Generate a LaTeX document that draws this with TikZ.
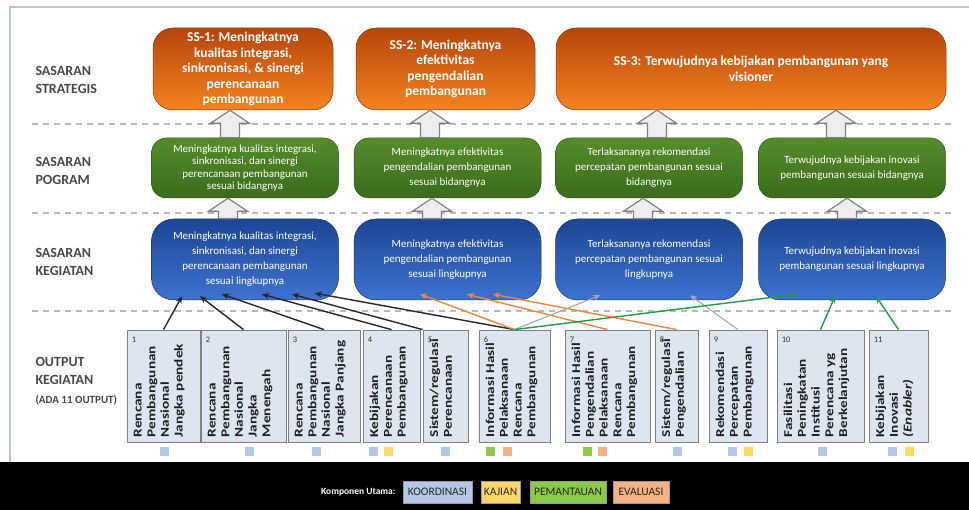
\documentclass[tikz,border=0pt]{standalone}
\usepackage{fontspec}
\setmainfont{Carlito}
\usetikzlibrary{arrows.meta,calc}

\definecolor{ssdark}{HTML}{B4460E}
\definecolor{sslight}{HTML}{F5821F}
\definecolor{pgdark}{HTML}{3A6B1C}
\definecolor{pglight}{HTML}{558D2B}
\definecolor{kgdark}{HTML}{1D4690}
\definecolor{kglight}{HTML}{3F72D2}
\definecolor{outfill}{HTML}{DCE5F0}
\definecolor{koord}{HTML}{B4C7E7}
\definecolor{kajian}{HTML}{FFD966}
\definecolor{pantau}{HTML}{8CCB45}
\definecolor{evalu}{HTML}{F4B183}
\definecolor{arrorange}{HTML}{E8873F}
\definecolor{arrgreen}{HTML}{1E9E4A}
\definecolor{bingkai}{HTML}{B9C3CF}

% panah blok ke atas: x, node bawah, node atas
\newcommand{\panahblok}[3]{%
  \draw[blok] let \p1=(#2.north), \p2=(#3.south) in
    ({#1pt-9.5pt},\y1) -- ({#1pt-9.5pt},{\y2-13pt}) -- ({#1pt-19.5pt},{\y2-13pt})
    -- ({#1pt},\y2) -- ({#1pt+19.5pt},{\y2-13pt}) -- ({#1pt+9.5pt},{\y2-13pt})
    -- ({#1pt+9.5pt},\y1) -- cycle;}

\begin{document}
\begin{tikzpicture}[x=1pt,y=-1pt,
  judul/.style={anchor=west, align=left, text=black!72, font=\fontsize{14}{18.5}\selectfont\bfseries},
  ss/.style={rounded corners=20pt, top color=ssdark, bottom color=sslight, draw=ssdark!80!black,
    line width=0.5pt, minimum height=82, inner sep=1pt, text=white, align=center,
    font=\fontsize{13.5}{15.5}\selectfont\bfseries},
  prog/.style={rounded corners=15pt, top color=pglight, bottom color=pgdark, draw=pgdark!80!black,
    line width=0.5pt, minimum height=60, minimum width=187, inner sep=1pt, text=white, align=center,
    font=\fontsize{11}{15}\selectfont},
  keg/.style={rounded corners=22pt, top color=kgdark, bottom color=kglight, draw=kgdark!80!black,
    line width=0.5pt, minimum height=81, minimum width=187, inner sep=1pt, text=white, align=center,
    font=\fontsize{11}{15}\selectfont},
  keluaran/.style={draw=black!50, fill=outfill, line width=0.8pt, minimum height=112, inner sep=0pt},
  nomor/.style={anchor=north west, inner sep=0pt, text=black!80, font=\fontsize{8.5}{9}\selectfont},
  isi/.style={rotate=90, xscale=1.27, anchor=north west, align=left, inner sep=0pt, text=black!88,
    font=\fontsize{12}{13.7}\selectfont\bfseries},
  kotak/.style={minimum size=9, inner sep=0pt},
  garis/.style={dash pattern=on 6pt off 5pt, draw=black!28, line width=1.2pt},
  hitam/.style={-{Stealth[length=7pt,width=6pt]}, line width=1.4pt, draw=black!85},
  oranye/.style={-{Stealth[length=7pt,width=6pt]}, line width=1.4pt, draw=arrorange},
  abu/.style={-{Stealth[length=7pt,width=6pt]}, line width=1.1pt, draw=black!35},
  hijau/.style={-{Stealth[length=7pt,width=6pt]}, line width=1.4pt, draw=arrgreen},
  blok/.style={draw=black!50, fill=black!7, line width=1.2pt},
  legenda/.style={minimum height=22, inner sep=0pt, draw=black!40, text=black!85,
    font=\fontsize{11.5}{12}\selectfont}]
  \useasboundingbox (0,0) rectangle (969,510);

  % bingkai dan garis pemisah
  \draw[bingkai, line width=2pt] (10,462) -- (10,7) -- (969,7);
  \draw[garis] (32,124) -- (952,124);
  \draw[garis] (32,213) -- (952,213);
  \draw[garis] (32,311) -- (952,311);

  % judul baris
  \node[judul] (jstrat) at (32,80) {SASARAN\\STRATEGIS};
  \node[judul] (jprog) at (32,171) {SASARAN\\POGRAM};
  \node[judul] (jkeg) at (32,262) {SASARAN\\KEGIATAN};
  \node[judul] (jout) at (32,381) {OUTPUT\\KEGIATAN\\{\fontsize{11}{12}\selectfont(ADA 11 OUTPUT)}};

  % sasaran strategis
  \node[ss, minimum width=180] (ss1) at (243,69) {SS-1: Meningkatnya\\kualitas integrasi,\\sinkronisasi, \& sinergi\\perencanaan\\pembangunan};
  \node[ss, minimum width=179] (ss2) at (445.5,69) {SS-2: Meningkatnya\\efektivitas\\pengendalian\\pembangunan};
  \node[ss, minimum width=390] (ss3) at (751,69) {SS-3: Terwujudnya kebijakan pembangunan yang\\visioner};

  % sasaran program
  \node[prog, font=\fontsize{11}{12.3}\selectfont] (pg1) at (245,168) {Meningkatnya kualitas integrasi,\\sinkronisasi, dan sinergi\\perencanaan pembangunan\\sesuai bidangnya};
  \node[prog] (pg2) at (447.5,168) {Meningkatnya efektivitas\\pengendalian pembangunan\\sesuai bidangnya};
  \node[prog] (pg3) at (649,168) {Terlaksananya rekomendasi\\percepatan pembangunan sesuai\\bidangnya};
  \node[prog] (pg4) at (852,168) {Terwujudnya kebijakan inovasi\\pembangunan sesuai bidangnya};

  % sasaran kegiatan
  \node[keg] (kg1) at (245,259.5) {Meningkatnya kualitas integrasi,\\sinkronisasi, dan sinergi\\perencanaan pembangunan\\sesuai lingkupnya};
  \node[keg] (kg2) at (447.5,259.5) {Meningkatnya efektivitas\\pengendalian pembangunan\\sesuai lingkupnya};
  \node[keg] (kg3) at (649,259.5) {Terlaksananya rekomendasi\\percepatan pembangunan sesuai\\lingkupnya};
  \node[keg] (kg4) at (852,259.5) {Terwujudnya kebijakan inovasi\\pembangunan sesuai lingkupnya};

  % panah blok
  \panahblok{228}{kg1}{pg1}
  \panahblok{432}{kg2}{pg2}
  \panahblok{643}{kg3}{pg3}
  \panahblok{847}{kg4}{pg4}
  \panahblok{230}{pg1}{ss1}
  \panahblok{430}{pg2}{ss2}
  \panahblok{657}{pg3}{ss3}
  \panahblok{836}{pg4}{ss3}

  % output kegiatan
  \node[keluaran, minimum width=73] (o1) at (163.5,386) {};
  \node[nomor] at ([xshift=5pt,yshift=-7pt]o1.north west) {1};
  \node[isi] at ([xshift=7pt,yshift=5pt]o1.south west) {Rencana\\Pembangunan\\Nasional\\Jangka pendek};
  \node[keluaran, minimum width=85] (o2) at (243.5,386) {};
  \node[nomor] at ([xshift=5pt,yshift=-7pt]o2.north west) {2};
  \node[isi] at ([xshift=7pt,yshift=5pt]o2.south west) {Rencana\\Pembangunan\\Nasional\\Jangka\\Menengah};
  \node[keluaran, minimum width=72] (o3) at (324,386) {};
  \node[nomor] at ([xshift=5pt,yshift=-7pt]o3.north west) {3};
  \node[isi] at ([xshift=7pt,yshift=5pt]o3.south west) {Rencana\\Pembangunan\\Nasional\\Jangka Panjang};
  \node[keluaran, minimum width=57] (o4) at (391.5,386) {};
  \node[nomor] at ([xshift=5pt,yshift=-7pt]o4.north west) {4};
  \node[isi] at ([xshift=7pt,yshift=5pt]o4.south west) {Kebijakan\\Perencanaan\\Pembangunan};
  \node[keluaran, minimum width=45] (o5) at (445.5,386) {};
  \node[nomor] at ([xshift=5pt,yshift=-7pt]o5.north west) {5};
  \node[isi] at ([xshift=7pt,yshift=5pt]o5.south west) {Sistem/regulasi\\Perencanaan};
  \node[keluaran, minimum width=71] (o6) at (514.5,386) {};
  \node[nomor] at ([xshift=5pt,yshift=-7pt]o6.north west) {6};
  \node[isi] at ([xshift=7pt,yshift=5pt]o6.south west) {Informasi Hasil\\Pelaksanaan\\Rencana\\Pembangunan};
  \node[keluaran, minimum width=85] (o7) at (607.5,386) {};
  \node[nomor] at ([xshift=5pt,yshift=-7pt]o7.north west) {7};
  \node[isi] at ([xshift=7pt,yshift=5pt]o7.south west) {Informasi Hasil\\Pengendalian\\Pelaksanaan\\Rencana\\Pembangunan};
  \node[keluaran, minimum width=43] (o8) at (676.5,386) {};
  \node[nomor] at ([xshift=5pt,yshift=-7pt]o8.north west) {8};
  \node[isi] at ([xshift=7pt,yshift=5pt]o8.south west) {Sistem/regulasi\\Pengendalian};
  \node[keluaran, minimum width=58] (o9) at (738,386) {};
  \node[nomor] at ([xshift=5pt,yshift=-7pt]o9.north west) {9};
  \node[isi] at ([xshift=7pt,yshift=5pt]o9.south west) {Rekomendasi\\Percepatan\\Pembangunan};
  \node[keluaran, minimum width=87] (o10) at (820.5,386) {};
  \node[nomor] at ([xshift=5pt,yshift=-7pt]o10.north west) {10};
  \node[isi] at ([xshift=7pt,yshift=5pt]o10.south west) {Fasilitasi\\Peningkatan\\Institusi\\Perencana yg\\Berkelanjutan};
  \node[keluaran, minimum width=59] (o11) at (898.5,386) {};
  \node[nomor] at ([xshift=5pt,yshift=-7pt]o11.north west) {11};
  \node[isi] at ([xshift=7pt,yshift=5pt]o11.south west) {Kebijakan\\Inovasi\\\textit{(Enabler)}};

  % komponen tiap output
  \node[kotak, fill=koord] at (164,451) {};
  \node[kotak, fill=koord] at (249,451) {};
  \node[kotak, fill=koord] at (316,451) {};
  \node[kotak, fill=koord] at (373,451) {};
  \node[kotak, fill=kajian] at (388,451) {};
  \node[kotak, fill=koord] at (445,451) {};
  \node[kotak, fill=pantau] at (490,451) {};
  \node[kotak, fill=evalu] at (507,451) {};
  \node[kotak, fill=pantau] at (587,451) {};
  \node[kotak, fill=evalu] at (602,451) {};
  \node[kotak, fill=koord] at (677,451) {};
  \node[kotak, fill=koord] at (732,451) {};
  \node[kotak, fill=kajian] at (748,451) {};
  \node[kotak, fill=koord] at (822,451) {};
  \node[kotak, fill=koord] at (892,451) {};
  \node[kotak, fill=kajian] at (909,451) {};

  % output ke sasaran kegiatan
  \draw[hitam] (o1.north) -- ([xshift=-63pt,yshift=4pt]kg1.south);
  \draw[hitam] (o2.north) -- ([xshift=-45pt,yshift=4pt]kg1.south);
  \draw[hitam] (o3.north) -- ([xshift=-23pt,yshift=6pt]kg1.south);
  \draw[hitam] (o4.north) -- ([xshift=17pt,yshift=6pt]kg1.south);
  \draw[hitam] (o5.north west) -- ([xshift=47pt,yshift=6pt]kg1.south);
  \draw[hitam] (o6.north) -- ([xshift=70pt,yshift=7pt]kg1.south);
  \draw[oranye] (o6.north) -- ([xshift=-27.5pt,yshift=6pt]kg2.south);
  \draw[oranye] (o7.north) -- ([xshift=19.5pt,yshift=6pt]kg2.south);
  \draw[oranye] (o8.north) -- ([xshift=45.5pt,yshift=6pt]kg2.south);
  \draw[abu] (o6.north) -- ([xshift=-49pt,yshift=5pt]kg3.south);
  \draw[abu] (o9.north) -- ([xshift=41pt,yshift=5pt]kg3.south);
  \draw[hijau] (o6.north) -- ([xshift=-55pt,yshift=6pt]kg4.south);
  \draw[hijau] (o10.north) -- ([xshift=-17pt,yshift=4pt]kg4.south);
  \draw[hijau] (o11.north) -- ([xshift=24pt,yshift=4pt]kg4.south);

  % legenda
  \fill[black] (0,462) rectangle (969,510);
  \node[anchor=east, text=white, font=\fontsize{9.5}{11}\selectfont\bfseries] (komp) at (399,492) {Komponen Utama:};
  \node[legenda, fill=koord, minimum width=69] (lkoord) at (437.5,492) {KOORDINASI};
  \node[legenda, fill=kajian, minimum width=39] (lkaji) at (500.5,492) {KAJIAN};
  \node[legenda, fill=pantau, minimum width=76] (lpantau) at (568,492) {PEMANTAUAN};
  \node[legenda, fill=evalu, minimum width=56] (leval) at (641,492) {EVALUASI};
\end{tikzpicture}
\end{document}
